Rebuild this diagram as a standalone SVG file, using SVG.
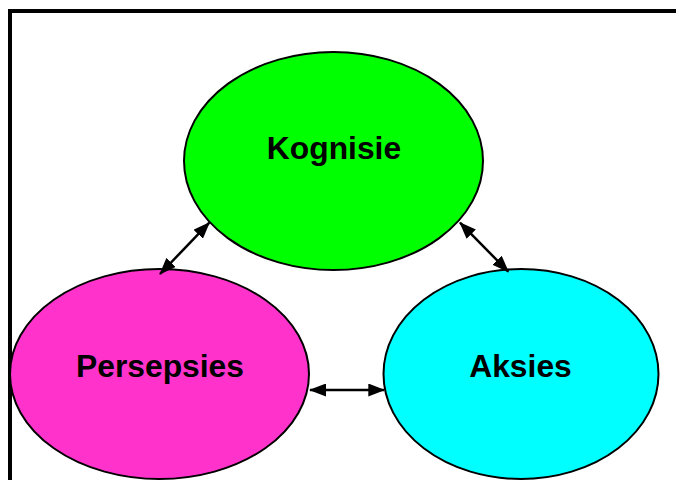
<svg xmlns="http://www.w3.org/2000/svg" width="676" height="480" viewBox="0 0 676 480">
<style>
.node{stroke:#000;stroke-width:2}
.lbl{font-family:"Liberation Sans",Arial,sans-serif;font-weight:bold;font-size:31.8px;text-anchor:middle;fill:#000}
.conn{stroke:#000;stroke-width:2.5;fill:none;marker-start:url(#ah);marker-end:url(#ah)}
</style>
<defs>
<marker id="ah" viewBox="0 0 17 13" refX="16" refY="6.5" markerWidth="17" markerHeight="13" markerUnits="userSpaceOnUse" orient="auto-start-reverse">
<path d="M0,0 L17,6.5 L0,13 Z" fill="#000"/>
</marker>
</defs>
<rect x="10" y="11" width="720" height="520" fill="#fff" stroke="#000" stroke-width="4"/>
<g id="kognisie">
<ellipse class="node" cx="333.5" cy="161" rx="149.5" ry="109" fill="#00FF00"/>
<text class="lbl" x="334" y="159">Kognisie</text>
</g>
<g id="persepsies">
<ellipse class="node" cx="159.5" cy="374" rx="149.5" ry="105" fill="#FF33CC"/>
<text class="lbl" x="160" y="376.5">Persepsies</text>
</g>
<g id="aksies">
<ellipse class="node" cx="521" cy="374" rx="137.5" ry="105" fill="#00FFFF"/>
<text class="lbl" x="520.5" y="376.5">Aksies</text>
</g>
<g id="connectors">
<line class="conn" x1="160" y1="274" x2="209.3" y2="222.7"/>
<line class="conn" x1="460" y1="222.7" x2="508.3" y2="271.7"/>
<line class="conn" x1="310" y1="390" x2="384.3" y2="390"/>
</g>
</svg>
